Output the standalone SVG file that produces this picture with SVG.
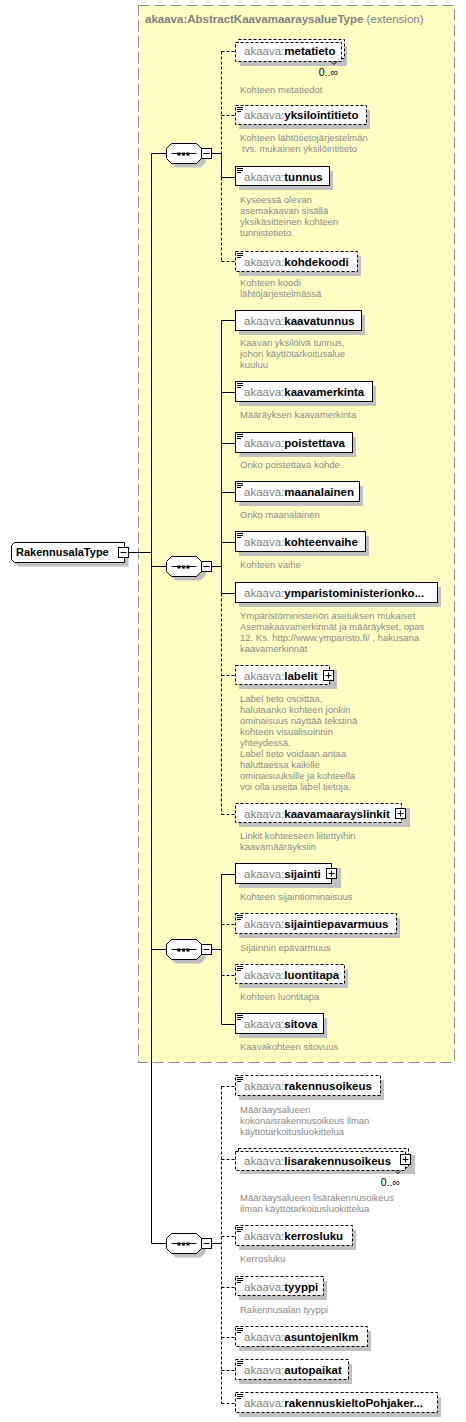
<svg xmlns="http://www.w3.org/2000/svg" width="466" height="1422" viewBox="0 0 466 1422">
<style>
.bg{fill:#ffffff}
.ext{fill:#ffffc4;stroke:#8c8c8c;stroke-width:1;stroke-dasharray:11 5}
.sh{fill:#c0c0c0;stroke:none}
.box{fill:#ffffff;stroke:#000000;stroke-width:1}
.dbox{fill:#ffffff;stroke:#000000;stroke-width:1;stroke-dasharray:3 2}
.ln{stroke:#000000;stroke-width:1;fill:none}
.dl{stroke:#000000;stroke-width:1;fill:none;stroke-dasharray:3 2}
.ic{stroke:#000000;stroke-width:1;fill:none}
.lbl{font-family:"Liberation Sans",Arial,sans-serif;font-size:11.5px;font-weight:bold;fill:#000000}
.pfx{font-weight:normal;fill:#808080}
.ttl{font-family:"Liberation Sans",Arial,sans-serif;font-size:11.5px;font-weight:bold;fill:#808080}
.ttn{font-weight:normal}
.desc{font-family:"Liberation Sans",Arial,sans-serif;font-size:9.5px;fill:#8a8a8a}
.occ{font-family:"Liberation Sans",Arial,sans-serif;font-size:10.5px;fill:#000000}
.root{font-family:"Liberation Sans",Arial,sans-serif;font-size:11px;font-weight:bold;fill:#000000}
.sq{fill:#000000}
</style>
<defs>
<g id="doc"><line class="ic" x1="237" y1="1.5" x2="243" y2="1.5"/><line class="ic" x1="237" y1="3.5" x2="243" y2="3.5"/><line class="ic" x1="237" y1="5.5" x2="241" y2="5.5"/></g>
<g id="seqsym"><polygon class="sh" points="175,-6 200,-6 205,-1 205,9 200,14 175,14 170,9 170,-1"/><polygon class="box" points="171,-10 196,-10 201,-5 201,5 196,10 171,10 166,5 166,-5"/><line class="ln" x1="171" y1="0" x2="196" y2="0"/><rect class="sq" x="177" y="-1" width="3" height="3"/><rect class="sq" x="181.5" y="-1" width="3" height="3"/><rect class="sq" x="186" y="-1" width="3" height="3"/><rect class="box" x="201" y="-5" width="10" height="10"/><line class="ln" x1="203" y1="0" x2="209" y2="0"/><line class="ln" x1="211" y1="0" x2="221" y2="0"/></g>
</defs>
<rect class="bg" x="0" y="0" width="466" height="1422"/>
<g id="extension">
<rect class="ext" x="138.5" y="5.5" width="316" height="1057"/>
<text class="ttl" x="145" y="23">akaava:AbstractKaavamaaraysalueType<tspan class="ttn"> (extension)</tspan></text>
</g>
<g id="connectors" transform="translate(0.5,0.5)">
<line class="ln" x1="128" y1="552" x2="151" y2="552"/>
<line class="ln" x1="151" y1="153" x2="151" y2="1243"/>
<line class="ln" x1="151" y1="153" x2="166" y2="153"/>
<line class="ln" x1="151" y1="566" x2="166" y2="566"/>
<line class="ln" x1="151" y1="949" x2="166" y2="949"/>
<line class="ln" x1="151" y1="1243" x2="166" y2="1243"/>
<line class="dl" x1="221" y1="51" x2="221" y2="153"/>
<line class="ln" x1="221" y1="153" x2="221" y2="177"/>
<line class="dl" x1="221" y1="177" x2="221" y2="261"/>
<line class="dl" x1="221" y1="51" x2="235" y2="51"/>
<line class="dl" x1="221" y1="115" x2="235" y2="115"/>
<line class="ln" x1="221" y1="177" x2="235" y2="177"/>
<line class="dl" x1="221" y1="261" x2="235" y2="261"/>
<line class="ln" x1="221" y1="320" x2="221" y2="593"/>
<line class="dl" x1="221" y1="593" x2="221" y2="814"/>
<line class="ln" x1="221" y1="320" x2="235" y2="320"/>
<line class="ln" x1="221" y1="392" x2="235" y2="392"/>
<line class="ln" x1="221" y1="443" x2="235" y2="443"/>
<line class="ln" x1="221" y1="492" x2="235" y2="492"/>
<line class="ln" x1="221" y1="542" x2="235" y2="542"/>
<line class="ln" x1="221" y1="593" x2="235" y2="593"/>
<line class="dl" x1="221" y1="675" x2="235" y2="675"/>
<line class="dl" x1="221" y1="814" x2="235" y2="814"/>
<line class="ln" x1="221" y1="874" x2="221" y2="1024"/>
<line class="ln" x1="221" y1="874" x2="235" y2="874"/>
<line class="dl" x1="221" y1="924" x2="235" y2="924"/>
<line class="dl" x1="221" y1="975" x2="235" y2="975"/>
<line class="ln" x1="221" y1="1024" x2="235" y2="1024"/>
<line class="dl" x1="221" y1="1086" x2="221" y2="1403"/>
<line class="dl" x1="221" y1="1086" x2="235" y2="1086"/>
<line class="dl" x1="221" y1="1159" x2="235" y2="1159"/>
<line class="dl" x1="221" y1="1236" x2="235" y2="1236"/>
<line class="dl" x1="221" y1="1287" x2="235" y2="1287"/>
<line class="dl" x1="221" y1="1337" x2="235" y2="1337"/>
<line class="dl" x1="221" y1="1370" x2="235" y2="1370"/>
<line class="dl" x1="221" y1="1403" x2="235" y2="1403"/>
</g>
<g id="root" transform="translate(0.5,0.5)">
<polygon class="sh" points="18,546 128,546 128,566 18,566 15,563 15,549"/>
<polygon class="box" points="14,542 124,542 124,562 14,562 11,559 11,545"/>
<text class="root" x="15.5" y="555.5">RakennusalaType</text>
<rect class="box" x="118" y="547" width="10" height="10"/>
<line class="ln" x1="120" y1="552" x2="126" y2="552"/>
</g>
<g id="seq1"><use href="#seqsym" transform="translate(0.5,153.5)"/></g>
<g id="seq2"><use href="#seqsym" transform="translate(0.5,566.5)"/></g>
<g id="seq3"><use href="#seqsym" transform="translate(0.5,949.5)"/></g>
<g id="seq4"><use href="#seqsym" transform="translate(0.5,1243.5)"/></g>

<g id="metatieto">
<rect class="sh" x="240" y="46" width="107" height="20"/>
<rect class="dbox" x="238.5" y="39.5" width="106" height="19"/>
<rect class="dbox" x="235.5" y="42.5" width="106" height="19"/>
<polyline class="ln" points="331,61.5 334,64.5 337,61.5"/>
<text class="lbl" x="244" y="55"><tspan class="pfx">akaava:</tspan>metatieto</text>
<text class="occ" x="338" y="76" text-anchor="end">0..∞</text>
<text class="desc" x="240" y="92.5">Kohteen metatiedot</text>
</g>
<g id="yksilointitieto">
<rect class="sh" x="239" y="110" width="131" height="19"/>
<rect class="dbox" x="235.5" y="105.5" width="131" height="19"/>
<use href="#doc" transform="translate(0,106)"/>
<text class="lbl" x="244" y="119"><tspan class="pfx">akaava:</tspan>yksilointitieto</text>
<text class="desc" x="240" y="141">Kohteen lähtötietojärjestelmän</text>
<text class="desc" x="242" y="152">tvs. mukainen yksilöintitieto</text>
</g>
<g id="tunnus">
<rect class="sh" x="239" y="171" width="94" height="19"/>
<rect class="box" x="235.5" y="166.5" width="94" height="19"/>
<use href="#doc" transform="translate(0,167)"/>
<text class="lbl" x="244" y="181"><tspan class="pfx">akaava:</tspan>tunnus</text>
<text class="desc" x="240" y="202.5">Kyseessä olevan</text>
<text class="desc" x="240" y="213.5">asemakaavan sisällä</text>
<text class="desc" x="240" y="224.5">yksikäsitteinen kohteen</text>
<text class="desc" x="240" y="235.5">tunnistetieto.</text>
</g>
<g id="kohdekoodi">
<rect class="sh" x="239" y="256" width="122" height="20"/>
<rect class="dbox" x="235.5" y="251.5" width="122" height="20"/>
<use href="#doc" transform="translate(0,252)"/>
<text class="lbl" x="244" y="265.5"><tspan class="pfx">akaava:</tspan>kohdekoodi</text>
<text class="desc" x="240" y="285.5">Kohteen koodi</text>
<text class="desc" x="240" y="296.5">lähtöjärjestelmässä</text>
</g>

<g id="kaavatunnus">
<rect class="sh" x="239" y="315" width="126" height="20"/>
<rect class="box" x="235.5" y="310.5" width="126" height="20"/>
<text class="lbl" x="244" y="325"><tspan class="pfx">akaava:</tspan>kaavatunnus</text>
<text class="desc" x="240" y="346">Kaavan yksilöivä tunnus,</text>
<text class="desc" x="240" y="357">johon käyttötarkoitusalue</text>
<text class="desc" x="240" y="368">kuuluu</text>
</g>
<g id="kaavamerkinta">
<rect class="sh" x="239" y="386" width="137" height="20"/>
<rect class="box" x="235.5" y="381.5" width="137" height="20"/>
<use href="#doc" transform="translate(0,382)"/>
<text class="lbl" x="244" y="396"><tspan class="pfx">akaava:</tspan>kaavamerkinta</text>
<text class="desc" x="240" y="418">Määräyksen kaavamerkinta</text>
</g>
<g id="poistettava">
<rect class="sh" x="239" y="437" width="117" height="20"/>
<rect class="box" x="235.5" y="432.5" width="117" height="20"/>
<use href="#doc" transform="translate(0,433)"/>
<text class="lbl" x="244" y="447"><tspan class="pfx">akaava:</tspan>poistettava</text>
<text class="desc" x="240" y="467.5">Onko poistettava kohde</text>
</g>
<g id="maanalainen">
<rect class="sh" x="239" y="486" width="124" height="20"/>
<rect class="box" x="235.5" y="481.5" width="124" height="20"/>
<use href="#doc" transform="translate(0,482)"/>
<text class="lbl" x="244" y="496"><tspan class="pfx">akaava:</tspan>maanalainen</text>
<text class="desc" x="240" y="518">Onko maanalainen</text>
</g>
<g id="kohteenvaihe">
<rect class="sh" x="239" y="536" width="130" height="20"/>
<rect class="box" x="235.5" y="531.5" width="130" height="20"/>
<use href="#doc" transform="translate(0,532)"/>
<text class="lbl" x="244" y="546"><tspan class="pfx">akaava:</tspan>kohteenvaihe</text>
<text class="desc" x="240" y="568">Kohteen vaihe</text>
</g>
<g id="ymparistoministerionko">
<rect class="sh" x="239" y="587" width="202" height="20"/>
<rect class="box" x="235.5" y="582.5" width="202" height="20"/>
<text class="lbl" x="244" y="597"><tspan class="pfx">akaava:</tspan>ymparistoministerionko...</text>
<text class="desc" x="240" y="618.5">Ympäristöministeriön asetuksen mukaiset</text>
<text class="desc" x="240" y="629.5">Asemakaavamerkinnät ja määräykset, opas</text>
<text class="desc" x="240" y="640.5">12. Ks. http://www.ymparisto.fi/ , hakusana</text>
<text class="desc" x="240" y="651.5">kaavamerkinnät</text>
</g>
<g id="labelit">
<rect class="sh" x="239" y="670" width="98" height="19"/>
<rect class="dbox" x="235.5" y="665.5" width="94" height="19"/>
<rect class="box" x="323.5" y="670.5" width="10" height="10"/>
<line class="ln" x1="325.5" y1="675.5" x2="331.5" y2="675.5"/><line class="ln" x1="328.5" y1="672.5" x2="328.5" y2="678.5"/>
<text class="lbl" x="244" y="679.5"><tspan class="pfx">akaava:</tspan>labelit</text>
<text class="desc" x="240" y="702">Label tieto osoittaa,</text>
<text class="desc" x="240" y="713">halutaanko kohteen jonkin</text>
<text class="desc" x="240" y="724">ominaisuus näyttää tekstinä</text>
<text class="desc" x="240" y="735">kohteen visualisoinnin</text>
<text class="desc" x="240" y="746">yhteydessä.</text>
<text class="desc" x="240" y="757">Label tieto voidaan antaa</text>
<text class="desc" x="240" y="768">haluttaessa kaikille</text>
<text class="desc" x="240" y="779">ominaisuuksille ja kohteella</text>
<text class="desc" x="240" y="790">voi olla useita label tietoja.</text>
</g>
<g id="kaavamaarayslinkit">
<rect class="sh" x="239" y="808" width="171" height="19"/>
<rect class="dbox" x="235.5" y="803.5" width="166" height="19"/>
<rect class="box" x="395.5" y="808.5" width="10" height="10"/>
<line class="ln" x1="397.5" y1="813.5" x2="403.5" y2="813.5"/><line class="ln" x1="400.5" y1="810.5" x2="400.5" y2="816.5"/>
<text class="lbl" x="244" y="818"><tspan class="pfx">akaava:</tspan>kaavamaarayslinkit</text>
<text class="desc" x="240" y="839">Linkit kohteeseen liitettyihin</text>
<text class="desc" x="240" y="850">kaavamääräyksiin</text>
</g>

<g id="sijainti">
<rect class="sh" x="239" y="868" width="102" height="20"/>
<rect class="box" x="235.5" y="863.5" width="96" height="20"/>
<rect class="box" x="326.5" y="868.5" width="10" height="10"/>
<line class="ln" x1="328.5" y1="873.5" x2="334.5" y2="873.5"/><line class="ln" x1="331.5" y1="870.5" x2="331.5" y2="876.5"/>
<text class="lbl" x="244" y="878"><tspan class="pfx">akaava:</tspan>sijainti</text>
<text class="desc" x="240" y="900">Kohteen sijaintiominaisuus</text>
</g>
<g id="sijaintiepavarmuus">
<rect class="sh" x="239" y="918" width="161" height="20"/>
<rect class="dbox" x="235.5" y="913.5" width="161" height="20"/>
<use href="#doc" transform="translate(0,914)"/>
<text class="lbl" x="244" y="928"><tspan class="pfx">akaava:</tspan>sijaintiepavarmuus</text>
<text class="desc" x="240" y="951">Sijainnin epävarmuus</text>
</g>
<g id="luontitapa">
<rect class="sh" x="239" y="969" width="109" height="19"/>
<rect class="dbox" x="235.5" y="964.5" width="109" height="19"/>
<use href="#doc" transform="translate(0,965)"/>
<text class="lbl" x="244" y="979"><tspan class="pfx">akaava:</tspan>luontitapa</text>
<text class="desc" x="240" y="1000">Kohteen luontitapa</text>
</g>
<g id="sitova">
<rect class="sh" x="239" y="1018" width="88" height="20"/>
<rect class="box" x="235.5" y="1013.5" width="88" height="20"/>
<use href="#doc" transform="translate(0,1014)"/>
<text class="lbl" x="244" y="1028"><tspan class="pfx">akaava:</tspan>sitova</text>
<text class="desc" x="240" y="1050">Kaavakohteen sitovuus</text>
</g>

<g id="rakennusoikeus">
<rect class="sh" x="239" y="1080" width="145" height="20"/>
<rect class="dbox" x="235.5" y="1075.5" width="145" height="20"/>
<use href="#doc" transform="translate(0,1076)"/>
<text class="lbl" x="244" y="1090"><tspan class="pfx">akaava:</tspan>rakennusoikeus</text>
<text class="desc" x="240" y="1112.5">Määräaysalueen</text>
<text class="desc" x="240" y="1123.5">kokonaisrakennusoikeus ilman</text>
<text class="desc" x="240" y="1134.5">käyttötarkoitusluokittelua</text>
</g>
<g id="lisarakennusoikeus">
<rect class="sh" x="240" y="1155" width="175" height="19"/>
<rect class="dbox" x="238.5" y="1148.5" width="170" height="19"/>
<rect class="dbox" x="235.5" y="1151.5" width="170" height="19"/>
<polyline class="ln" points="395,1170.5 398,1173.5 401,1170.5"/>
<rect class="box" x="400.5" y="1154.5" width="10" height="10"/>
<line class="ln" x1="402.5" y1="1159.5" x2="408.5" y2="1159.5"/><line class="ln" x1="405.5" y1="1156.5" x2="405.5" y2="1162.5"/>
<text class="lbl" x="244" y="1164.5"><tspan class="pfx">akaava:</tspan>lisarakennusoikeus</text>
<text class="occ" x="400" y="1186" text-anchor="end">0..∞</text>
<text class="desc" x="240" y="1201">Määräaysalueen lisärakennusoikeus</text>
<text class="desc" x="240" y="1212">ilman käyttötarkoitusluokittelua</text>
</g>
<g id="kerrosluku">
<rect class="sh" x="239" y="1230" width="117" height="20"/>
<rect class="dbox" x="235.5" y="1225.5" width="117" height="20"/>
<use href="#doc" transform="translate(0,1226)"/>
<text class="lbl" x="244" y="1240"><tspan class="pfx">akaava:</tspan>kerrosluku</text>
<text class="desc" x="240" y="1262">Kerrosluku</text>
</g>
<g id="tyyppi">
<rect class="sh" x="239" y="1281" width="88" height="19"/>
<rect class="dbox" x="235.5" y="1276.5" width="88" height="19"/>
<use href="#doc" transform="translate(0,1277)"/>
<text class="lbl" x="244" y="1291"><tspan class="pfx">akaava:</tspan>tyyppi</text>
<text class="desc" x="240" y="1312.5">Rakennusalan tyyppi</text>
</g>
<g id="asuntojenlkm">
<rect class="sh" x="239" y="1331" width="132" height="20"/>
<rect class="dbox" x="235.5" y="1326.5" width="132" height="20"/>
<use href="#doc" transform="translate(0,1327)"/>
<text class="lbl" x="244" y="1341"><tspan class="pfx">akaava:</tspan>asuntojenlkm</text>
</g>
<g id="autopaikat">
<rect class="sh" x="239" y="1364" width="113" height="20"/>
<rect class="dbox" x="235.5" y="1359.5" width="113" height="20"/>
<use href="#doc" transform="translate(0,1360)"/>
<text class="lbl" x="244" y="1374"><tspan class="pfx">akaava:</tspan>autopaikat</text>
</g>
<g id="rakennuskieltoPohjakertoimet">
<rect class="sh" x="239" y="1397" width="202" height="20"/>
<rect class="dbox" x="235.5" y="1392.5" width="202" height="20"/>
<use href="#doc" transform="translate(0,1393)"/>
<text class="lbl" x="244" y="1407"><tspan class="pfx">akaava:</tspan>rakennuskieltoPohjaker...</text>
</g>
</svg>
